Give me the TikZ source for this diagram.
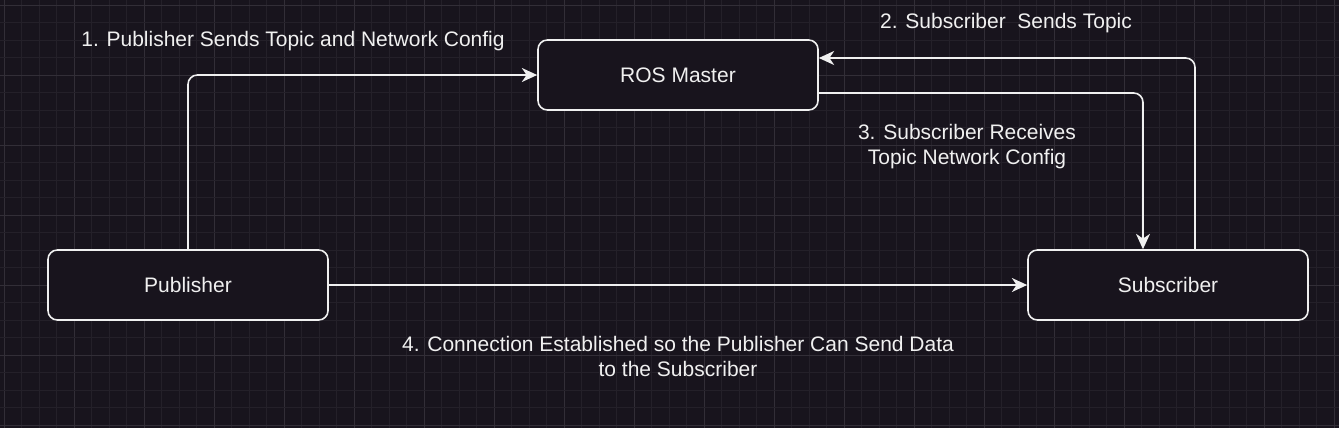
\documentclass[tikz,border=0pt]{standalone}
\usepackage{fontspec}
\setmainfont{Liberation Sans}
\usetikzlibrary{arrows.meta,positioning,calc}

\definecolor{bgdark}{RGB}{24,20,29}
\definecolor{gridminor}{RGB}{36,32,41}
\definecolor{gridmajor}{RGB}{50,46,55}
\definecolor{inkwhite}{RGB}{240,240,240}

\tikzset{
  rosbox/.style={draw=inkwhite, fill=bgdark, line width=1.2pt, rounded corners=7pt,
    minimum width=210pt, minimum height=52.5pt, text=inkwhite},
  lbl/.style={text=inkwhite, align=center, inner sep=0pt},
  link/.style={->, draw=inkwhite, line width=1.2pt, rounded corners=7pt}
}

\begin{document}
\begin{tikzpicture}[x=0.75pt,y=-0.75pt,>={Stealth[length=11.5pt,width=10.5pt,inset=3.5pt]},
    font=\fontsize{15.75pt}{18.75pt}\selectfont]

  % background and grid
  \fill[bgdark] (0,0) rectangle (1339,428);
  \useasboundingbox (0,0) rectangle (1339,428);
  \foreach \i in {0,...,76} {
    \pgfmathsetmacro{\gx}{4+17.5*\i}
    \pgfmathtruncatemacro{\ismajor}{mod(\i,4)==0}
    \ifnum\ismajor=1
      \draw[gridmajor, line width=0.6pt] (\gx,0) -- (\gx,428);
    \else
      \draw[gridminor, line width=0.6pt] (\gx,0) -- (\gx,428);
    \fi
  }
  \foreach \j in {0,...,24} {
    \pgfmathsetmacro{\gy}{5+17.5*\j}
    \pgfmathtruncatemacro{\ismajor}{mod(\j,4)==0}
    \ifnum\ismajor=1
      \draw[gridmajor, line width=0.6pt] (0,\gy) -- (1339,\gy);
    \else
      \draw[gridminor, line width=0.6pt] (0,\gy) -- (1339,\gy);
    \fi
  }

  % nodes
  \node[rosbox] (M) at (678,75) {ROS Master};
  \node[rosbox] (P) at (188,285) {Publisher};
  \node[rosbox] (S) at (1168,285) {Subscriber};

  % bend points
  \coordinate (Sout) at ($(S.north)+(27,0)$);
  \coordinate (Min) at ($(M.east)+(0,-17)$);
  \coordinate (Mout) at ($(M.east)+(0,18)$);
  \coordinate (Sin) at ($(S.north)+(-25,0)$);

  % connectors
  \draw[link] (P.north) |- (M.west);
  \draw[link] (Sout) |- (Min);
  \draw[link] (Mout) -| (Sin);
  \draw[link] (P.east) -- (S.west);

  % labels
  \node[lbl] (L1) at (293,41.5) {1. Publisher Sends Topic and Network Config};
  \node[lbl] (L2) at (1006,23.5) {2. Subscriber\ \ Sends Topic};
  \node[lbl] (L3) at (967,147) {3. Subscriber Receives\\Topic Network Config};
  \node[lbl] (L4) at (678,356) {4. Connection Established so the Publisher Can Send Data\\to the Subscriber};
\end{tikzpicture}
\end{document}
